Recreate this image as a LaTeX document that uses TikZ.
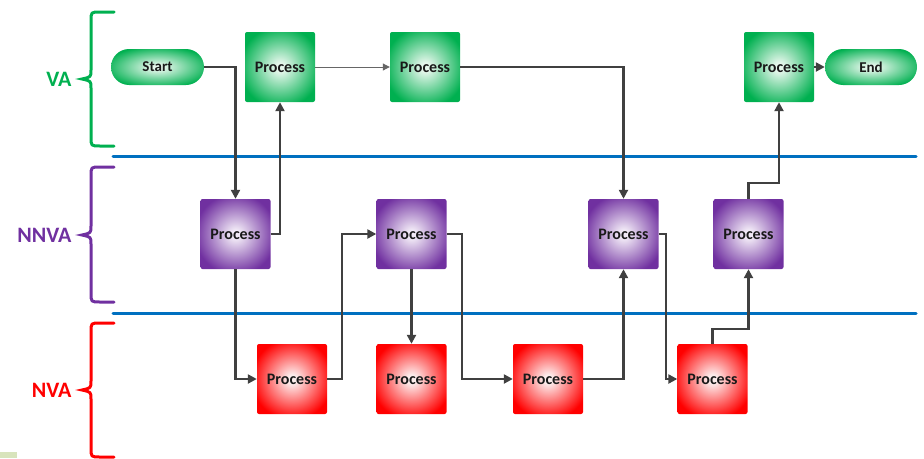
\documentclass[tikz,border=0pt]{standalone}
\usepackage{fontspec}
\setmainfont{Carlito}
\usetikzlibrary{arrows.meta}
\definecolor{vagreen}{HTML}{00B050}
\definecolor{gcenter}{HTML}{E6F7EC}
\definecolor{nnpurple}{HTML}{7030A0}
\definecolor{pcenter}{HTML}{F1E9F6}
\definecolor{nvred}{HTML}{FF0000}
\definecolor{rcenter}{HTML}{FCEDED}
\definecolor{lineblue}{HTML}{0070C0}
\definecolor{conn}{HTML}{404040}
\definecolor{cornergreen}{HTML}{D8E4BC}
\pgfdeclareradialshading{greenball}{\pgfpoint{0bp}{0bp}}{color(0bp)=(gcenter); color(3bp)=(gcenter); color(29bp)=(vagreen); color(50bp)=(vagreen)}
\pgfdeclareradialshading{purpleball}{\pgfpoint{0bp}{0bp}}{color(0bp)=(pcenter); color(3bp)=(pcenter); color(29bp)=(nnpurple); color(50bp)=(nnpurple)}
\pgfdeclareradialshading{redball}{\pgfpoint{0bp}{0bp}}{color(0bp)=(rcenter); color(3bp)=(rcenter); color(29bp)=(nvred); color(50bp)=(nvred)}
\tikzset{
  procbox/.style={minimum width=70pt, minimum height=70pt, inner sep=0pt, rounded corners=2pt, font=\bfseries\fontsize{16}{18}\selectfont, text=black!90},
  gbox/.style={procbox, shading=greenball},
  pbox/.style={procbox, shading=purpleball},
  rbox/.style={procbox, shading=redball},
  term/.style={minimum width=93pt, minimum height=36pt, inner sep=0pt, rounded corners=18pt, shading=greenball, font=\bfseries\fontsize{15}{17}\selectfont, text=black!90},
  flow/.style={draw=conn, line width=2.4pt, -{Triangle[length=9pt,width=9pt]}},
  thinflow/.style={draw=conn!80, line width=1pt, -{Triangle[length=7pt,width=7pt]}},
  lane/.style={draw=lineblue, line width=3pt, line cap=round},
  brace/.style={line width=3pt, line cap=round},
  lanelabel/.style={font=\bfseries\fontsize{22}{24}\selectfont, anchor=east}
}
\begin{document}
\begin{tikzpicture}[x=1pt,y=-1pt]
\useasboundingbox (0,0) rectangle (924,458);
\fill[cornergreen] (0,452) rectangle (17,458);
% lanes
\coordinate (l1a) at (113,156); \coordinate (l1b) at (916,156);
\coordinate (l2a) at (113,313); \coordinate (l2b) at (916,313);
\draw[lane] (l1a) -- (l1b);
\draw[lane] (l2a) -- (l2b);
% braces
\draw[brace, vagreen] (114,12) -- (100,12) .. controls (91,12) .. (91,21) -- (91,70) .. controls (91,77) .. (82,79) .. controls (91,81) .. (91,88) -- (91,137) .. controls (91,146) .. (100,146) -- (114,146);
\draw[brace, nnpurple] (114,167) -- (100,167) .. controls (91,167) .. (91,176) -- (91,226) .. controls (91,233) .. (82,235) .. controls (91,237) .. (91,244) -- (91,293) .. controls (91,302) .. (100,302) -- (114,302);
\draw[brace, nvred] (114,323) -- (100,323) .. controls (91,323) .. (91,332) -- (91,381) .. controls (91,388) .. (82,390) .. controls (91,392) .. (91,399) -- (91,448) .. controls (91,457) .. (100,457) -- (114,457);
\node[lanelabel, text=vagreen] (lva) at (75,79) {VA};
\node[lanelabel, text=nnpurple] (lnnva) at (75,235) {NNVA};
\node[lanelabel, text=nvred] (lnva) at (75,390) {NVA};
% VA row
\node[term] (start) at (157.5,67) {Start};
\node[gbox] (g1) at (280,67) {Process};
\node[gbox] (g2) at (425,67) {Process};
\node[gbox] (g3) at (779,67) {Process};
\node[term, minimum width=92pt] (end) at (871,67) {End};
% NNVA row
\node[pbox] (p1) at (235.5,234) {Process};
\node[pbox] (p2) at (411.5,234) {Process};
\node[pbox] (p3) at (623.5,234) {Process};
\node[pbox] (p4) at (748.5,234) {Process};
% NVA row
\node[rbox] (r1) at (292,379) {Process};
\node[rbox] (r2) at (411.5,379) {Process};
\node[rbox] (r3) at (548,379) {Process};
\node[rbox] (r4) at (712.5,379) {Process};
% connectors
\draw[flow] (start.east) -| (p1.north);
\draw[flow] (p1.east) -| (g1.south);
\draw[thinflow] (g1.east) -- (g2.west);
\draw[flow] (g2.east) -| (p3.north);
\draw[flow] (p1.south) |- (r1.west);
\draw[flow] (r1.east) -- ++(15,0) |- (p2.west);
\draw[flow] (p2.south) -- (r2.north);
\draw[flow] (p2.east) -- ++(15,0) |- (r3.west);
\draw[flow] (r3.east) -| (p3.south);
\draw[flow] (p3.east) -- ++(7,0) |- (r4.west);
\draw[flow] (r4.north) -- ++(0,-15) -| (p4.south);
\draw[flow] (p4.north) -- ++(0,-16) -| (g3.south);
\draw[flow] (g3.east) -- (end.west);
\end{tikzpicture}
\end{document}
